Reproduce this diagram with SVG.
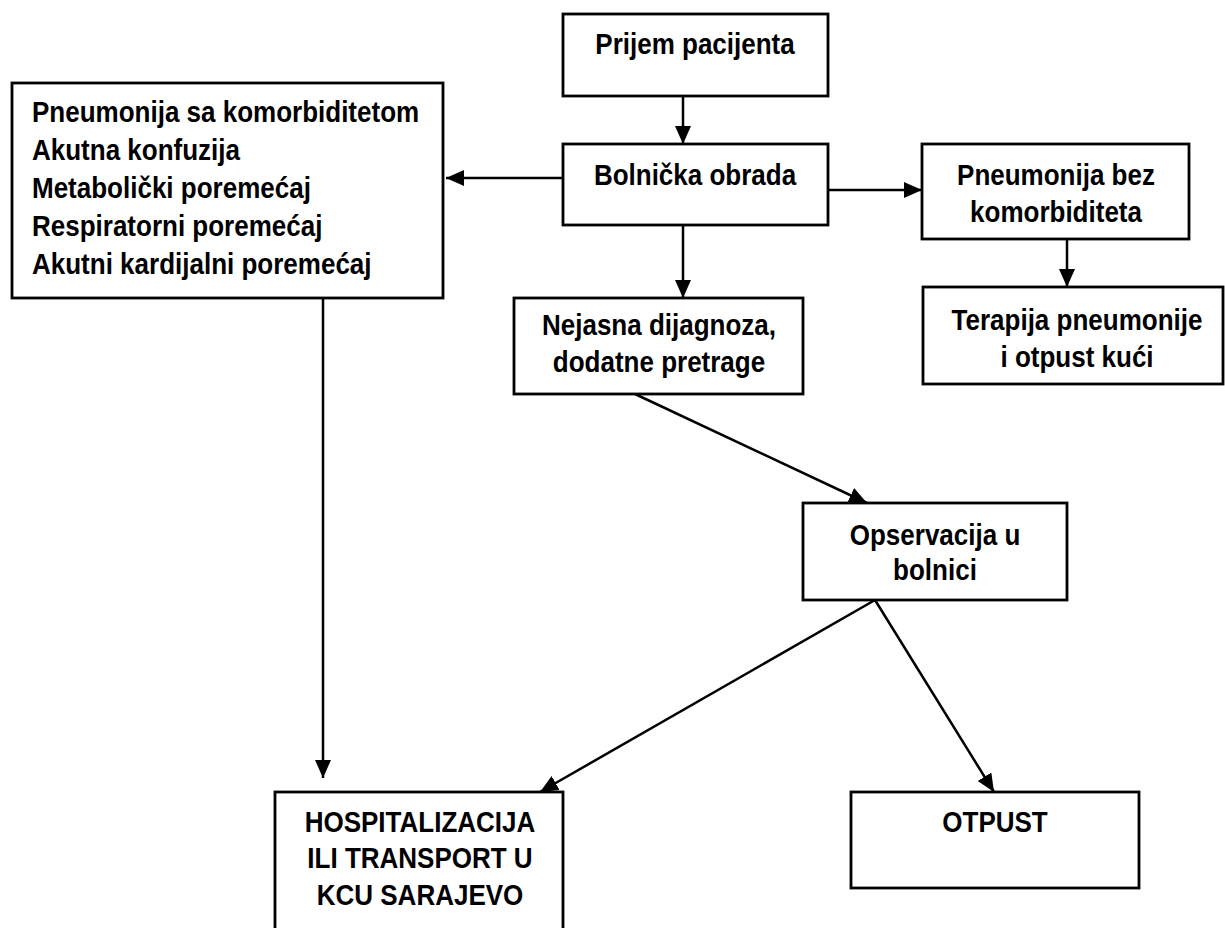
<svg xmlns="http://www.w3.org/2000/svg" width="1225" height="928" viewBox="0 0 1225 928">
  <style>
    .box { fill: #ffffff; stroke: #000000; stroke-width: 2.8; }
    .lbl { font-family: "Liberation Sans", Arial, sans-serif; font-weight: bold; font-size: 30px; fill: #000000; }
    .mid { text-anchor: middle; }
    .edge { stroke: #000000; stroke-width: 2.5; fill: none; marker-end: url(#arrow); }
  </style>
  <defs>
    <marker id="arrow" markerUnits="userSpaceOnUse" markerWidth="19" markerHeight="17" refX="18" refY="8" orient="auto">
      <path d="M0,0 L18,8 L0,16 Z" fill="#000000"/>
    </marker>
  </defs>
  <rect width="1225" height="928" fill="#ffffff"/>

  <!-- connectors -->
  <g id="connectors">
    <line class="edge" x1="683" y1="96" x2="683" y2="144"/>
    <line class="edge" x1="563" y1="178" x2="446" y2="178"/>
    <line class="edge" x1="828" y1="190" x2="922" y2="190"/>
    <line class="edge" x1="683" y1="225" x2="683" y2="298"/>
    <line class="edge" x1="1067" y1="239" x2="1067" y2="287"/>
    <line class="edge" x1="635" y1="394" x2="867" y2="503"/>
    <line class="edge" x1="323" y1="298" x2="323" y2="778"/>
    <line class="edge" x1="875" y1="600" x2="540" y2="792"/>
    <line class="edge" x1="875" y1="600" x2="994" y2="792"/>
  </g>

  <g id="prijem">
    <rect class="box" x="563" y="14" width="265" height="82"/>
    <text class="lbl mid" transform="translate(695 54) scale(0.867 1)">Prijem pacijenta</text>
  </g>

  <g id="obrada">
    <rect class="box" x="563" y="144" width="265" height="81"/>
    <text class="lbl mid" transform="translate(695 185) scale(0.867 1)">Bolnička obrada</text>
  </g>

  <g id="komorbiditet">
    <rect class="box" x="12" y="83" width="431" height="215"/>
    <text class="lbl" transform="translate(32 122) scale(0.867 1)">Pneumonija sa komorbiditetom</text>
    <text class="lbl" transform="translate(32 160) scale(0.867 1)">Akutna konfuzija</text>
    <text class="lbl" transform="translate(32 198) scale(0.867 1)">Metabolički poremećaj</text>
    <text class="lbl" transform="translate(32 236) scale(0.867 1)">Respiratorni poremećaj</text>
    <text class="lbl" transform="translate(32 274) scale(0.867 1)">Akutni kardijalni poremećaj</text>
  </g>

  <g id="bez-komorbiditeta">
    <rect class="box" x="922" y="144" width="267" height="95"/>
    <text class="lbl mid" transform="translate(1056 185) scale(0.867 1)">Pneumonija bez</text>
    <text class="lbl mid" transform="translate(1056 222) scale(0.867 1)">komorbiditeta</text>
  </g>

  <g id="terapija">
    <rect class="box" x="923" y="287" width="300" height="97"/>
    <text class="lbl mid" transform="translate(1077 330) scale(0.867 1)">Terapija pneumonije</text>
    <text class="lbl mid" transform="translate(1077 367) scale(0.867 1)">i otpust kući</text>
  </g>

  <g id="nejasna">
    <rect class="box" x="514" y="298" width="289" height="96"/>
    <text class="lbl mid" transform="translate(659 335) scale(0.867 1)">Nejasna dijagnoza,</text>
    <text class="lbl mid" transform="translate(659 372) scale(0.867 1)">dodatne pretrage</text>
  </g>

  <g id="opservacija">
    <rect class="box" x="803" y="503" width="264" height="97"/>
    <text class="lbl mid" transform="translate(935 545) scale(0.867 1)">Opservacija u</text>
    <text class="lbl mid" transform="translate(935 580) scale(0.867 1)">bolnici</text>
  </g>

  <g id="hospitalizacija">
    <rect class="box" x="275" y="792" width="288" height="150"/>
    <text class="lbl mid" transform="translate(420 832) scale(0.867 1)">HOSPITALIZACIJA</text>
    <text class="lbl mid" transform="translate(420 868) scale(0.867 1)">ILI TRANSPORT U</text>
    <text class="lbl mid" transform="translate(420 905) scale(0.867 1)">KCU SARAJEVO</text>
  </g>

  <g id="otpust">
    <rect class="box" x="851" y="792" width="288" height="96"/>
    <text class="lbl mid" transform="translate(995 832) scale(0.867 1)">OTPUST</text>
  </g>
</svg>
